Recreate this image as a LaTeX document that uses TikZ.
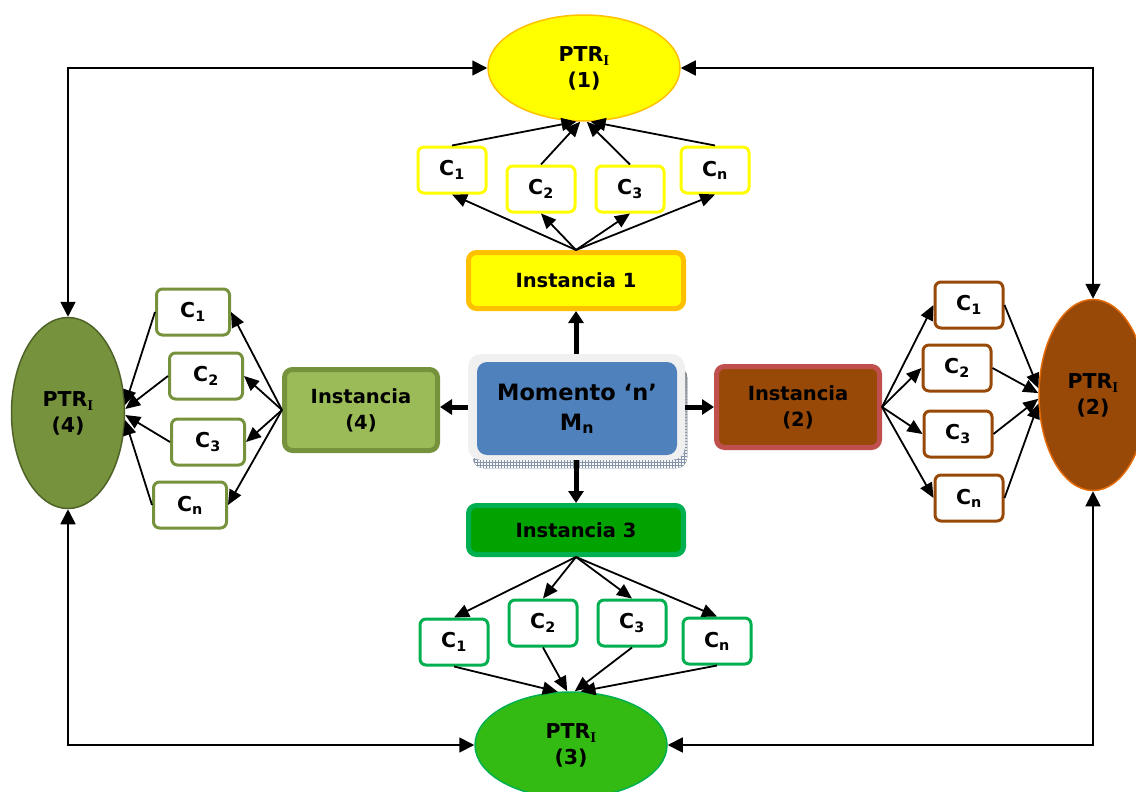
\documentclass[tikz,border=0pt]{standalone}
\usepackage{fontspec}
\setmainfont{DejaVu Sans}
\newfontfamily\subserif{Liberation Serif}
\usetikzlibrary{arrows.meta,shapes.geometric,patterns}

\definecolor{ylw}{HTML}{FFFF00}
\definecolor{ylwedge}{HTML}{FFC000}
\definecolor{olive}{HTML}{9BBB59}
\definecolor{olivedark}{HTML}{76923C}
\definecolor{olivedeep}{HTML}{4F6228}
\definecolor{brn}{HTML}{984807}
\definecolor{brnedge}{HTML}{C0504D}
\definecolor{brnring}{HTML}{E36C09}
\definecolor{grn}{HTML}{00A300}
\definecolor{grnedge}{HTML}{00B050}
\definecolor{grnlight}{HTML}{33BB14}
\definecolor{blu}{HTML}{4F81BD}
\definecolor{shade}{HTML}{E3E8EF}
\definecolor{hatch}{HTML}{8393AC}

% PTR label with a serif subscript I, set at an explicit size
\newcommand{\ptrlabel}{PTR\raisebox{-0.2em}{\fontsize{15}{15}\selectfont\subserif\bfseries I}}

\begin{document}
\begin{tikzpicture}[x=1pt,y=-1pt,
  ell/.style={ellipse, inner sep=0pt, line width=1.5pt, align=center,
    font=\bfseries\fontsize{20.5}{26}\selectfont},
  inst/.style={rectangle, rounded corners=8pt, line width=5pt, inner sep=0pt,
    align=center, font=\bfseries\fontsize{19.5}{26}\selectfont},
  cb/.style={rectangle, rounded corners=6pt, line width=3pt, fill=white,
    minimum width=68pt, minimum height=46pt, inner sep=0pt,
    font=\bfseries\fontsize{20.5}{24}\selectfont},
  arr/.style={line width=1.8pt, -{Triangle[length=15pt,width=13pt]}},
  link/.style={line width=1.8pt,
    {Triangle[length=15pt,width=15pt]}-{Triangle[length=15pt,width=15pt]}},
  harr/.style={line width=5pt, -{Triangle[length=12pt,width=15pt]}}]

\useasboundingbox (0,0) rectangle (1136,792);
\clip (0,0) rectangle (1136,792);

% ---- the four PTR ellipses ----
\node[ell, fill=ylw, draw=ylwedge, minimum width=192pt, minimum height=106pt]
  (p1) at (584,68) {\ptrlabel\\(1)};
\node[ell, fill=olivedark, draw=olivedeep, minimum width=113pt, minimum height=191pt]
  (p4) at (68,413) {\ptrlabel\\(4)};
\node[ell, fill=brn, draw=brnring, minimum width=108pt, minimum height=191pt]
  (p2) at (1093,395) {\ptrlabel\\(2)};
\node[ell, fill=grnlight, draw=grnedge, minimum width=192pt, minimum height=106pt]
  (p3) at (571,745) {\ptrlabel\\(3)};

% ---- central moment box with its hatched shadow ----
\fill[shade, rounded corners=10pt] (473,367) rectangle (687,468);
\fill[pattern=grid, pattern color=hatch, rounded corners=10pt] (473,367) rectangle (687,468);
\node[rectangle, rounded corners=13pt, fill=black!6,
  minimum width=217pt, minimum height=106pt] (mframe) at (576.5,407) {};
\node[rectangle, rounded corners=10pt, fill=blu, minimum width=200pt, minimum height=93pt,
  align=center, font=\bfseries\fontsize{22.5}{30}\selectfont] (m) at (577,408.5)
  {Momento ‘n’\\M\textsubscript{n}};

% ---- the four instances ----
\node[inst, fill=ylw, draw=ylwedge, minimum width=215pt, minimum height=56pt]
  (i1) at (576,280.5) {Instancia 1};
\node[inst, fill=olive, draw=olivedark, minimum width=153pt, minimum height=81pt]
  (i4) at (361,410) {Instancia\\(4)};
\node[inst, fill=brn, draw=brnedge, minimum width=163pt, minimum height=81pt]
  (i2) at (798,407) {Instancia\\(2)};
\node[inst, fill=grn, draw=grnedge, minimum width=215pt, minimum height=49pt]
  (i3) at (576,530) {Instancia 3};

% ---- criteria boxes ----
\node[cb, draw=ylw] (t1) at (452,170) {C\textsubscript{1}};
\node[cb, draw=ylw] (t2) at (541,189) {C\textsubscript{2}};
\node[cb, draw=ylw] (t3) at (630,189) {C\textsubscript{3}};
\node[cb, draw=ylw] (tn) at (715,170) {C\textsubscript{n}};

\node[cb, draw=olivedark, minimum width=73pt] (l1) at (193,312) {C\textsubscript{1}};
\node[cb, draw=olivedark, minimum width=73pt] (l2) at (206,376) {C\textsubscript{2}};
\node[cb, draw=olivedark, minimum width=73pt] (l3) at (208,442) {C\textsubscript{3}};
\node[cb, draw=olivedark, minimum width=73pt] (ln) at (190,505) {C\textsubscript{n}};

\node[cb, draw=brn] (r1) at (969,305) {C\textsubscript{1}};
\node[cb, draw=brn] (r2) at (957,368) {C\textsubscript{2}};
\node[cb, draw=brn] (r3) at (958,434) {C\textsubscript{3}};
\node[cb, draw=brn] (rn) at (969,498) {C\textsubscript{n}};

\node[cb, draw=grnedge] (b1) at (454,642) {C\textsubscript{1}};
\node[cb, draw=grnedge] (b2) at (543,623) {C\textsubscript{2}};
\node[cb, draw=grnedge] (b3) at (632,623) {C\textsubscript{3}};
\node[cb, draw=grnedge] (bn) at (717,641) {C\textsubscript{n}};

% ---- moment to instances ----
\draw[harr] (mframe.north -| i1.south) -- (i1.south);
\draw[harr] (mframe.west) -- (mframe.west -| i4.east);
\draw[harr] (mframe.east) -- (mframe.east -| i2.west);
\draw[harr] (mframe.south -| i3.north) -- (i3.north);

% ---- instance 1 branch ----
\foreach \c in {t1,t2,t3,tn} \draw[arr] (i1.north) -- (\c.south);
\draw[arr] (t1.north) -- (p1.262);
\draw[arr] (t2.north) -- (p1.266);
\draw[arr] (t3.north) -- (p1.273);
\draw[arr] (tn.north) -- (p1.277);

% ---- instance 4 branch ----
\foreach \c in {l1,l2,l3,ln} \draw[arr] (i4.west) -- (\c.east);
\draw[arr] (l1.west) -- (p4.8);
\draw[arr] (l2.west) -- (p4.4);
\draw[arr] (l3.west) -- (p4.-2);
\draw[arr] (ln.west) -- (p4.-7);

% ---- instance 2 branch ----
\foreach \c in {r1,r2,r3,rn} \draw[arr] (i2.east) -- (\c.west);
\draw[arr] (r1.east) -- (p2.173);
\draw[arr] (r2.east) -- (p2.178);
\draw[arr] (r3.east) -- (p2.184);
\draw[arr] (rn.east) -- (p2.189);

% ---- instance 3 branch ----
\foreach \c in {b1,b2,b3,bn} \draw[arr] (i3.south) -- (\c.north);
\draw[arr] (b1.south) -- (p3.104);
\draw[arr] (b2.south) -- (p3.94);
\draw[arr] (b3.south) -- (p3.86);
\draw[arr] (bn.south) -- (p3.80);

% ---- outer ring between the PTR ellipses ----
\draw[link] (p4.north) |- (p1.west);
\draw[link] (p1.east) -| (p2.north);
\draw[link] (p4.south) |- (p3.west);
\draw[link] (p3.east) -| (p2.south);

\end{tikzpicture}
\end{document}
